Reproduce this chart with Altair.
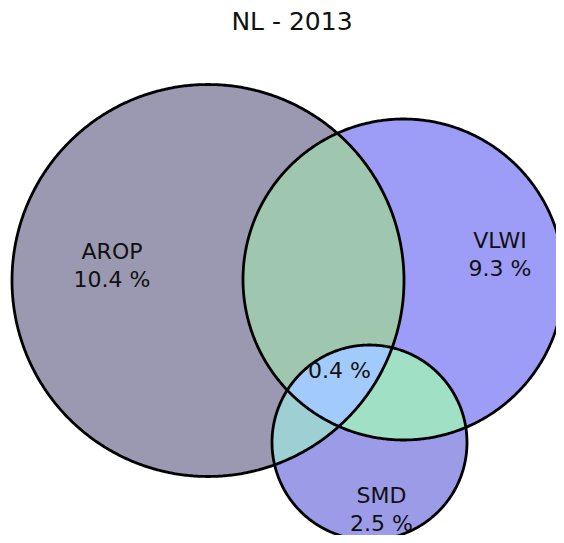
import numpy as np
import pandas as pd
import altair as alt

# ---- data ----
title_text = "NL - 2013"
set_names = ["AROP", "VLWI", "SMD"]
set_shares = ["10.4 %", "9.3 %", "2.5 %"]
triple_share = "0.4 %"

# circle layout (page pixel units)
circle_x = [208.0, 403.5, 369.5]
circle_y = [280.5, 279.5, 442.5]
circle_r = [196.0, 160.5, 97.5]

# region membership keys (AROP, VLWI, SMD) and their fills
region_keys = ["100", "010", "001", "110", "101", "011", "111"]
region_colors = ["#9b99b1", "#9d9cf6", "#9c9be8", "#9fc6ae", "#9dcfd3", "#a0e0c4", "#a2cafa"]

# label texts and anchor points (first-line baseline)
label_texts = [set_names[0] + "\n" + set_shares[0],
               set_names[1] + "\n" + set_shares[1],
               set_names[2] + "\n" + set_shares[2],
               triple_share]
label_x = [112.0, 500.0, 381.5, 339.5]
label_y = [259.0, 248.0, 503.0, 378.0]
title_x = [292.0]
title_y = [30.0]

n = len(circle_x)


def intersections(i, j):
    x1, y1, r1 = circle_x[i], circle_y[i], circle_r[i]
    x2, y2, r2 = circle_x[j], circle_y[j], circle_r[j]
    dx, dy = x2 - x1, y2 - y1
    d = float(np.hypot(dx, dy))
    if d >= r1 + r2 or d <= abs(r1 - r2):
        return []
    a = (d * d + r1 * r1 - r2 * r2) / (2 * d)
    h = float(np.sqrt(max(r1 * r1 - a * a, 0.0)))
    mx, my = x1 + a * dx / d, y1 + a * dy / d
    return [(mx - h * dy / d, my + h * dx / d), (mx + h * dy / d, my - h * dx / d)]


# split every circle into arcs at the intersection points
arcs = []
for i in range(n):
    angs = []
    for j in range(n):
        if j != i:
            for (px, py) in intersections(i, j):
                angs.append(float(np.arctan2(py - circle_y[i], px - circle_x[i])))
    angs.sort()
    spans = []
    if not angs:
        spans.append((-np.pi, np.pi))
    else:
        for k in range(len(angs)):
            t0 = angs[k]
            t1 = angs[k + 1] if k + 1 < len(angs) else angs[0] + 2 * np.pi
            spans.append((t0, t1))
    for (t0, t1) in spans:
        tm = 0.5 * (t0 + t1)
        mx = circle_x[i] + circle_r[i] * np.cos(tm)
        my = circle_y[i] + circle_r[i] * np.sin(tm)
        memb = tuple(
            -1 if j == i else int(np.hypot(mx - circle_x[j], my - circle_y[j]) < circle_r[j])
            for j in range(n))
        arcs.append((i, t0, t1, memb))


def arc_points(i, t0, t1):
    m = max(int(abs(t1 - t0) / (2 * np.pi) * 720), 6)
    t = np.linspace(t0, t1, m)
    return list(circle_x[i] + circle_r[i] * np.cos(t)), list(circle_y[i] + circle_r[i] * np.sin(t))


region_rows = []
for key in region_keys:
    m = [int(c) for c in key]
    sel = [a for a in arcs if all(a[3][j] == m[j] for j in range(n) if j != a[0])]
    if not sel:
        continue
    first = sel.pop(0)
    xs, ys = arc_points(first[0], first[1], first[2])
    while sel:
        ex, ey = xs[-1], ys[-1]
        hit = None
        for idx, a in enumerate(sel):
            qx, qy = arc_points(a[0], a[1], a[2])
            if np.hypot(qx[0] - ex, qy[0] - ey) < 1e-3:
                hit = (idx, qx, qy)
                break
            if np.hypot(qx[-1] - ex, qy[-1] - ey) < 1e-3:
                hit = (idx, qx[::-1], qy[::-1])
                break
        if hit is None:
            break
        sel.pop(hit[0])
        xs += hit[1][1:]
        ys += hit[2][1:]
    for k, (px, py) in enumerate(zip(xs, ys)):
        region_rows.append({"region": key, "i": k, "x": px, "y": py})
region_df = pd.DataFrame(region_rows)

outline_rows = []
for c in range(n):
    t = np.linspace(0, 2 * np.pi, 721)
    for k, tt in enumerate(t):
        outline_rows.append({"circle": set_names[c], "i": k,
                             "x": circle_x[c] + circle_r[c] * np.cos(tt),
                             "y": circle_y[c] + circle_r[c] * np.sin(tt)})
outline_df = pd.DataFrame(outline_rows)

label_df = pd.DataFrame({"label": label_texts, "x": label_x, "y": label_y})
title_df = pd.DataFrame({"label": [title_text], "x": title_x, "y": title_y})

# ---- chart (1 scale unit = 1 page pixel; page margin is 8px) ----
W, H = 548, 527
xscale = alt.Scale(domain=[8, 8 + W], nice=False, zero=False)
yscale = alt.Scale(domain=[8, 8 + H], nice=False, zero=False, reverse=True)
X = alt.X("x:Q", scale=xscale, axis=None)
Y = alt.Y("y:Q", scale=yscale, axis=None)

regions = alt.Chart(region_df).mark_line(filled=True, strokeWidth=0).encode(
    x=X, y=Y,
    color=alt.Color("region:N", scale=alt.Scale(domain=region_keys, range=region_colors), legend=None),
    detail="region:N",
    order="i:Q",
)

outlines = alt.Chart(outline_df).mark_line(color="black", strokeWidth=2.8, strokeJoin="round").encode(
    x=X, y=Y,
    detail="circle:N",
    order="i:Q",
)

labels = alt.Chart(label_df).mark_text(
    font="DejaVu Sans", fontSize=22, align="center", baseline="alphabetic",
    lineBreak="\n", lineHeight=28, color="#111111",
).encode(x=X, y=Y, text="label:N")

title = alt.Chart(title_df).mark_text(
    font="DejaVu Sans", fontSize=25, align="center", baseline="alphabetic", color="#111111",
).encode(x=X, y=Y, text="label:N")

chart = alt.layer(regions, outlines, labels, title).properties(
    width=W,
    height=H,
    autosize=alt.AutoSizeParams(type="none"),
    padding=0,
).configure(background="white").configure_view(stroke=None)

chart.save("out.html", embed_options={"renderer": "svg", "actions": False})
